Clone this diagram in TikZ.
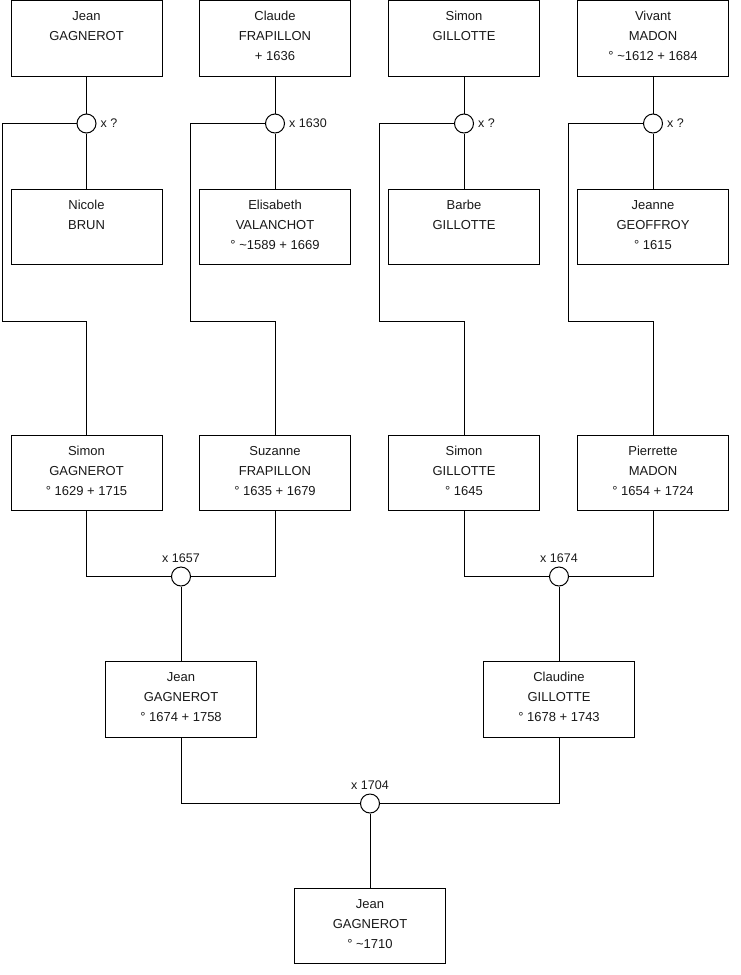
\documentclass[tikz,border=0pt]{standalone}
\usepackage{fontspec}
\setmainfont{Liberation Sans}
\begin{document}
\begin{tikzpicture}[x=1pt,y=-1pt,
  pbox/.style={draw=black, line width=1pt, minimum width=151pt, minimum height=75.5pt, inner sep=0pt, fill=white},
  ptext/.style={align=center, inner sep=0pt, font=\fontsize{13}{20}\selectfont, text=black!90},
  wed/.style={draw=black, line width=1pt, circle, minimum size=19pt, inner sep=0pt, fill=white},
  wlab/.style={inner sep=0pt, font=\fontsize{12.5}{15}\selectfont, text=black!90},
  link/.style={draw=black, line width=1pt}]
\useasboundingbox (0,0) rectangle (740,975);
\newcommand{\person}[3]{%
  \node[pbox] (#1) at (#2) {};
  \node[ptext, anchor=north] (#1t) at ([yshift=-8.5pt]#1.north) {\rule{0pt}{12pt}#3};}

% row 1
\person{a1}{86.5,38.25}{Jean\\GAGNEROT}
\person{a2}{275,38.25}{Claude\\FRAPILLON\\+ 1636}
\person{a3}{464,38.25}{Simon\\GILLOTTE}
\person{a4}{653,38.25}{Vivant\\MADON\\° \textasciitilde1612 + 1684}
% row 2
\person{b1}{86.5,227.2}{Nicole\\BRUN}
\person{b2}{275,227.2}{Elisabeth\\VALANCHOT\\° \textasciitilde1589 + 1669}
\person{b3}{464,227.2}{Barbe\\GILLOTTE}
\person{b4}{653,227.2}{Jeanne\\GEOFFROY\\° 1615}
% row 3
\person{c1}{86.5,472.75}{Simon\\GAGNEROT\\° 1629 + 1715}
\person{c2}{275,472.75}{Suzanne\\FRAPILLON\\° 1635 + 1679}
\person{c3}{464,472.75}{Simon\\GILLOTTE\\° 1645}
\person{c4}{653,472.75}{Pierrette\\MADON\\° 1654 + 1724}
% row 4
\person{d1}{181,699.5}{Jean\\GAGNEROT\\° 1674 + 1758}
\person{d2}{559,699.5}{Claudine\\GILLOTTE\\° 1678 + 1743}
% bottom
\person{e}{370,925.8}{Jean\\GAGNEROT\\° \textasciitilde1710}

% marriage circles
\node[wed] (m1) at (86.5,123.5) {};
\node[wed] (m2) at (275,123.5) {};
\node[wed] (m3) at (464,123.5) {};
\node[wed] (m4) at (653,123.5) {};
\node[wed] (n1) at (181,576.5) {};
\node[wed] (n2) at (559,576.5) {};
\node[wed] (f) at (370,803.5) {};

\node[wlab, anchor=west] (m1l) at ([xshift=4pt]m1.east) {x ?};
\node[wlab, anchor=west] (m2l) at ([xshift=4pt]m2.east) {x 1630};
\node[wlab, anchor=west] (m3l) at ([xshift=4pt]m3.east) {x ?};
\node[wlab, anchor=west] (m4l) at ([xshift=4pt]m4.east) {x ?};
\node[wlab, anchor=base] (n1l) at ([yshift=4.2pt]n1.north) {x 1657};
\node[wlab, anchor=base] (n2l) at ([yshift=4.2pt]n2.north) {x 1674};
\node[wlab, anchor=base] (fl) at ([yshift=4.2pt]f.north) {x 1704};

% corner coordinates
\coordinate (k1) at (2,123.5);   \coordinate (j1) at (2,321.5);
\coordinate (k2) at (190.5,123.5); \coordinate (j2) at (190.5,321.5);
\coordinate (k3) at (379.5,123.5); \coordinate (j3) at (379.5,321.5);
\coordinate (k4) at (568.5,123.5); \coordinate (j4) at (568.5,321.5);

% row 1 connectors
\foreach \i in {1,2,3,4}{
  \draw[link] (a\i.south) -- (m\i.north);
  \draw[link] (m\i.south) -- (b\i.north);
  \draw[link] (m\i.west) -- (k\i) -- (j\i) -| (c\i.north);
}
% row 3 connectors
\draw[link] (c1.south) |- (n1.west);
\draw[link] (c2.south) |- (n1.east);
\draw[link] (c3.south) |- (n2.west);
\draw[link] (c4.south) |- (n2.east);
\draw[link] (n1.south) -- (d1.north);
\draw[link] (n2.south) -- (d2.north);
% row 4 connectors
\draw[link] (d1.south) |- (f.west);
\draw[link] (d2.south) |- (f.east);
\draw[link] (f.south) -- (e.north);
\end{tikzpicture}
\end{document}
